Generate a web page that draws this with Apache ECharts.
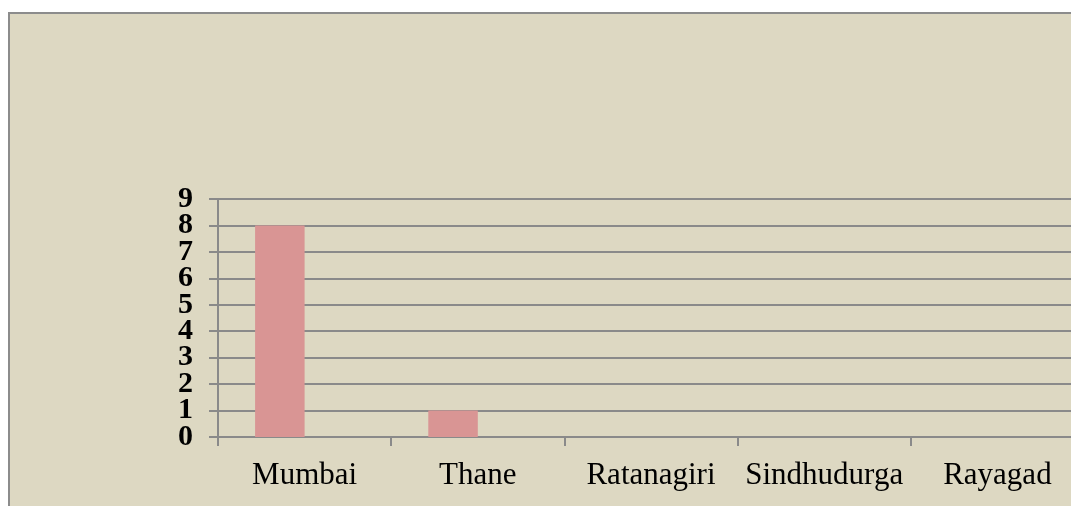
<!DOCTYPE html>
<html>
<head>
<meta charset="utf-8">
<script src="https://cdn.jsdelivr.net/npm/echarts@6/dist/echarts.min.js"></script>
<style>
    html, body { margin: 0; padding: 0; background: #ffffff; }
    #chart { width: 1071px; height: 506px; }
</style>
</head>
<body>
<div id="chart"></div>
<script>
    // data
    var districts = ['Mumbai', 'Thane', 'Ratanagiri', 'Sindhudurga', 'Rayagad'];
    var seriesA = [8, 1, 0, 0, 0];
    var seriesB = [0, 0, 0, 0, 0];   // second (empty) series, keeps bars left of centre
    var yTicks = [0, 9, 1];          // min, max, interval

    var gridColor = '#8a8a8a';
    var labelFont = {
        color: '#000000',
        fontFamily: 'Liberation Serif',
        fontWeight: 'bold',
        fontSize: 30
    };
    var myChart = echarts.init(document.getElementById('chart'), null, { renderer: 'canvas' });

    var option = {
        backgroundColor: '#ffffff',
        animation: false,
        graphic: [
            {
                type: 'rect',
                z: -10,
                silent: true,
                shape: { x: 9, y: 13, width: 1200, height: 700 },
                style: { fill: '#ddd8c2', stroke: '#8c8c8c', lineWidth: 2 }
            }
        ],
        grid: {
            left: 218,
            top: 199,
            right: -13,
            height: 238,
            outerBoundsMode: 'none'
        },
        xAxis: {
            type: 'category',
            data: districts,
            boundaryGap: true,
            axisLine: { show: true, lineStyle: { color: gridColor, width: 2 } },
            axisTick: { show: true, length: 9, lineStyle: { color: gridColor, width: 2 } },
            axisLabel: {
                interval: 0,
                margin: 23,
                color: '#000000',
                fontFamily: 'Liberation Serif',
                fontSize: 31
            }
        },
        yAxis: [
            {
                // main axis: lines, ticks and inner labels (1..8)
                type: 'value',
                min: yTicks[0],
                max: yTicks[1],
                interval: yTicks[2],
                axisLine: { show: true, lineStyle: { color: gridColor, width: 2 } },
                axisTick: { show: true, length: 9, lineStyle: { color: gridColor, width: 2 } },
                splitLine: { show: true, lineStyle: { color: gridColor, width: 2 } },
                axisLabel: Object.assign({ margin: 25 }, labelFont, {
                    formatter: function (v) { return (v === yTicks[0] || v === yTicks[1]) ? '' : String(v); }
                })
            },
            {
                // overlay axis only for the end labels 0 and 9, which get dropped as overlaps
                type: 'value',
                position: 'left',
                min: yTicks[0],
                max: yTicks[1],
                interval: yTicks[2],
                axisLine: { show: false },
                axisTick: { show: false },
                splitLine: { show: false },
                axisLabel: Object.assign({ margin: 25, showMinLabel: true, showMaxLabel: true }, labelFont, {
                    formatter: function (v) { return (v === yTicks[0] || v === yTicks[1]) ? String(v) : ''; }
                })
            }
        ],
        series: [
            {
                name: 'A',
                type: 'bar',
                data: seriesA,
                barWidth: 49.5,
                barGap: '0%',
                itemStyle: { color: '#d99594' }
            },
            {
                name: 'B',
                type: 'bar',
                data: seriesB,
                barWidth: 49.5,
                itemStyle: { color: '#c0504d' }
            }
        ]
    };

    myChart.setOption(option);
</script>
</body>
</html>
